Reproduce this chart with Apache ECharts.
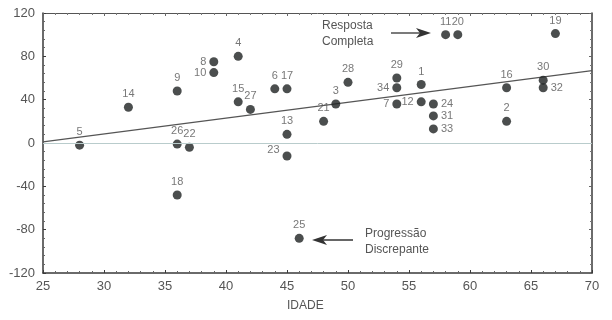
<!DOCTYPE html>
<html>
<head>
<meta charset="utf-8">
<script src="https://cdn.jsdelivr.net/npm/echarts@6/dist/echarts.min.js"></script>
<style>html,body{margin:0;padding:0;background:#fff}#c{width:612px;height:320px}</style>
</head>
<body>
<div id="c"></div>
<script>
// Data
const ids    = [1, 2, 3, 4, 5, 6, 7, 8, 9, 10, 11, 12, 13, 14, 15, 16, 17, 18, 19, 20, 21, 22, 23, 24, 25, 26, 27, 28, 29, 30, 31, 32, 33, 34];
const idade  = [56, 63, 49, 41, 28, 44, 54, 39, 36, 39, 58, 56, 45, 32, 41, 63, 45, 36, 67, 59, 48, 37, 45, 57, 46, 36, 42, 50, 54, 66, 57, 66, 57, 54];
const resp   = [54, 20, 36, 80, -2, 50, 36, 75, 48, 65, 100, 38, 8, 33, 38, 51, 50, -48, 101, 100, 20, -4, -12, 36, -88, -1, 31, 56, 60, 58, 25, 51, 13, 51];
const xTicks = [25, 30, 35, 40, 45, 50, 55, 60, 65, 70];
const yTicks = [-120, -80, -40, 0, 40, 80, 120];
const leftLabelIds  = [7, 8, 10, 12, 23, 34];
const rightLabelIds = [24, 31, 32, 33];

// least squares regression line
const n = idade.length;
const mx = idade.reduce((a, b) => a + b, 0) / n;
const my = resp.reduce((a, b) => a + b, 0) / n;
let sxy = 0, sxx = 0;
for (let i = 0; i < n; i++) { sxy += (idade[i] - mx) * (resp[i] - my); sxx += (idade[i] - mx) ** 2; }
const slope = sxy / sxx, icpt = my - slope * mx;
const xMin = xTicks[0], xMax = xTicks[xTicks.length - 1];
const yMin = yTicks[0], yMax = yTicks[yTicks.length - 1];
const regLine = [[xMin, icpt + slope * xMin], [xMax, icpt + slope * xMax]];

const pts = ids.map((id, i) => {
  let pos = 'top';
  if (leftLabelIds.includes(id)) pos = 'left';
  if (rightLabelIds.includes(id)) pos = 'right';
  const d = { value: [idade[i], resp[i]], name: String(id), label: { position: pos } };
  if (id === 23) d.label.offset = [0, -6];
  return d;
});

const axisCol = '#3a3a3a';
const txtCol = '#555';
const font = 'Liberation Sans, Arial, sans-serif';

const chart = echarts.init(document.getElementById('c'), null, { renderer: 'canvas' });
chart.setOption({
  animation: false,
  backgroundColor: '#fff',
  textStyle: { fontFamily: font },
  grid: { left: 43, right: 20, top: 13, bottom: 47 },
  xAxis: [{
    type: 'value', min: xMin, max: xMax, interval: 5,
    axisLine: { show: true, onZero: false, lineStyle: { color: axisCol, width: 1.5 } },
    axisTick: { show: true, inside: true, length: 3, lineStyle: { color: axisCol } },
    minorTick: { show: true, splitNumber: 5, length: 2, lineStyle: { color: '#666' } },
    axisLabel: { color: txtCol, fontSize: 13, margin: 7 },
    splitLine: { show: false }
  }, {
    type: 'value', position: 'top', min: xMin, max: xMax, interval: 5,
    axisLine: { show: true, onZero: false, lineStyle: { color: '#555', width: 1 } },
    axisTick: { show: true, inside: true, length: 3, lineStyle: { color: '#666' } },
    minorTick: { show: true, splitNumber: 5, length: 2, lineStyle: { color: '#777' } },
    axisLabel: { show: false }, splitLine: { show: false }
  }],
  yAxis: [{
    type: 'value', min: yMin, max: yMax, interval: 40,
    axisLine: { show: true, onZero: false, lineStyle: { color: axisCol, width: 1.5 } },
    axisTick: { show: true, inside: true, length: 3, lineStyle: { color: axisCol } },
    minorTick: { show: true, splitNumber: 5, length: 2, lineStyle: { color: '#666' } },
    axisLabel: { color: txtCol, fontSize: 13, margin: 8 },
    splitLine: { show: false }
  }, {
    type: 'value', position: 'right', min: yMin, max: yMax, interval: 40,
    axisLine: { show: true, onZero: false, lineStyle: { color: axisCol, width: 1.5 } },
    axisTick: { show: true, inside: true, length: 3, lineStyle: { color: '#666' } },
    minorTick: { show: true, splitNumber: 5, length: 2, lineStyle: { color: '#777' } },
    axisLabel: { show: false }, splitLine: { show: false }
  }],
  series: [{
    type: 'line', data: regLine, symbol: 'none', silent: true,
    lineStyle: { color: '#555', width: 1.2 },
    markLine: {
      silent: true, symbol: 'none', label: { show: false },
      lineStyle: { color: '#b9cccc', width: 1, type: 'solid' },
      data: [{ yAxis: 0 }]
    },
    z: 2
  }, {
    type: 'scatter', data: pts, symbol: 'circle', symbolSize: 9,
    itemStyle: { color: '#1e2222' },
    label: { show: true, formatter: '{b}', color: txtCol, fontSize: 11, distance: 3 },
    z: 3
  }],
  graphic: [
    { type: 'text', left: 287, top: 300, style: { text: 'IDADE', fill: txtCol, fontSize: 12, fontFamily: font } },
    { type: 'text', left: 322, top: 18, style: { text: 'Resposta\nCompleta', fill: txtCol, fontSize: 12, lineHeight: 16, fontFamily: font } },
    { type: 'line', shape: { x1: 391, y1: 33, x2: 422, y2: 33 }, style: { stroke: '#333', lineWidth: 1.3 } },
    { type: 'polygon', shape: { points: [[431, 33], [416, 28], [420, 33], [416, 38]] }, style: { fill: '#333' } },
    { type: 'text', left: 365, top: 226, style: { text: 'Progressão\nDiscrepante', fill: txtCol, fontSize: 12, lineHeight: 16, fontFamily: font } },
    { type: 'line', shape: { x1: 353, y1: 240, x2: 320, y2: 240 }, style: { stroke: '#333', lineWidth: 1.3 } },
    { type: 'polygon', shape: { points: [[312, 240], [327, 235], [323, 240], [327, 245]] }, style: { fill: '#333' } }
  ]
});
</script>
</body>
</html>
